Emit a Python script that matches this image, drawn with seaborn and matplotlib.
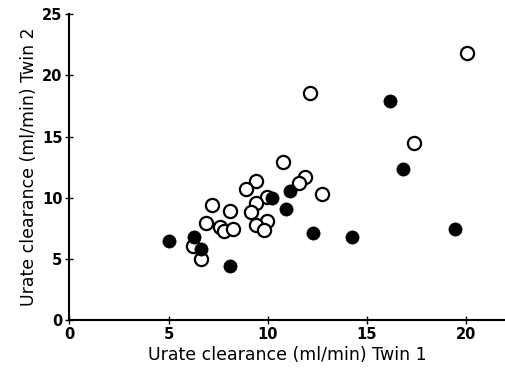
import matplotlib
matplotlib.use('Agg')
import matplotlib.pyplot as plt
import seaborn as sns
import pandas as pd

# Twin pairs, open circles
open_twin1 = [20.03, 12.15, 17.35, 10.74, 9.40, 11.85, 11.58, 8.89, 12.75, 9.97,
              7.21, 9.43, 8.09, 9.16, 6.88, 9.97, 7.58, 9.40, 7.79, 8.26,
              9.80, 6.21, 6.64]
open_twin2 = [21.81, 18.54, 14.50, 12.92, 11.40, 11.67, 11.23, 10.69, 10.31, 10.09,
              9.43, 9.54, 8.94, 8.83, 7.96, 8.07, 7.58, 7.74, 7.31, 7.47,
              7.36, 6.05, 5.02]

# Twin pairs, filled circles
filled_twin1 = [5.00, 6.28, 6.61, 8.12, 10.20, 11.11, 10.91, 12.28, 14.26, 16.14,
                16.81, 19.43]
filled_twin2 = [6.49, 6.82, 5.83, 4.42, 9.98, 10.52, 9.05, 7.14, 6.76, 17.94,
                12.32, 7.47]

df_open = pd.DataFrame({'Twin 1': open_twin1, 'Twin 2': open_twin2})
df_filled = pd.DataFrame({'Twin 1': filled_twin1, 'Twin 2': filled_twin2})

sns.set_style('ticks')
plt.rcParams['font.family'] = ['DejaVu Sans']
plt.rcParams['text.color'] = 'black'
plt.rcParams['axes.labelcolor'] = 'black'
plt.rcParams['xtick.color'] = 'black'
plt.rcParams['ytick.color'] = 'black'
plt.rcParams['axes.edgecolor'] = 'black'

fig = plt.figure(figsize=(5.06, 3.74), dpi=100)
ax = fig.add_axes([0.137, 0.144, 0.863, 0.818])

sns.scatterplot(data=df_open, x='Twin 1', y='Twin 2', ax=ax, marker='o', s=90,
                facecolor='white', edgecolor='black', linewidth=1.6, zorder=2)
sns.scatterplot(data=df_filled, x='Twin 1', y='Twin 2', ax=ax, marker='o', s=90,
                color='black', edgecolor='black', linewidth=0.5, zorder=3)

ax.set_xlim(0, 22)
ax.set_ylim(0, 25)
ax.set_xticks([0, 5, 10, 15, 20])
ax.set_yticks([0, 5, 10, 15, 20, 25])
ax.tick_params(direction='inout', length=6, width=1, labelsize=10.5, pad=2)
for lab in ax.get_xticklabels() + ax.get_yticklabels():
    lab.set_fontweight('bold')
sns.despine(ax=ax)
for sp in ['left', 'bottom']:
    ax.spines[sp].set_linewidth(1.5)

ax.set_xlabel('Urate clearance (ml/min) Twin 1', fontsize=12.5, labelpad=3)
ax.set_ylabel('Urate clearance (ml/min) Twin 2', fontsize=12.5, labelpad=3)

fig.savefig('out.png', dpi=100)
